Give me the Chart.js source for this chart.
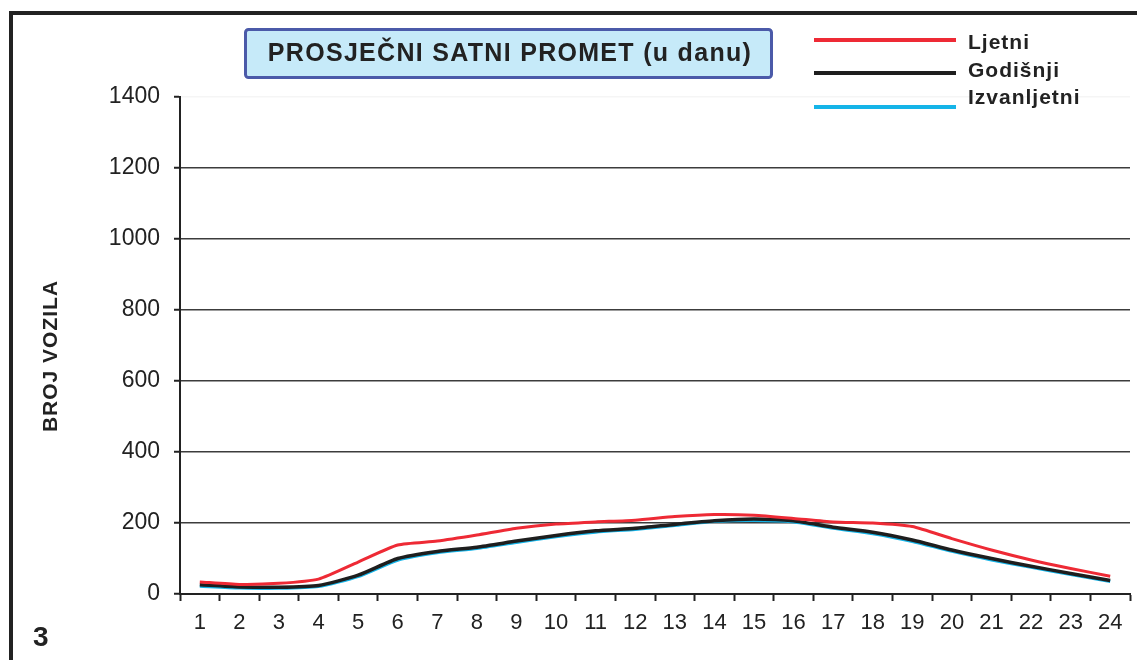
<!DOCTYPE html>
<html>
<head>
<meta charset="utf-8">
<script src="https://cdn.jsdelivr.net/npm/chart.js@4.4.1/dist/chart.umd.min.js"></script>
<style>
  html, body { margin: 0; padding: 0; background: #fff; }
  #wrap { width: 1137px; height: 660px; position: relative; }
</style>
</head>
<body>
<div id="wrap"><canvas id="chart"></canvas></div>
<script>
// data
const hours = ['1','2','3','4','5','6','7','8','9','10','11','12','13','14','15','16','17','18','19','20','21','22','23','24'];
const ljetni      = [34, 27, 30, 42, 90, 138, 149, 166, 185, 197, 203, 208, 218, 224, 222, 213, 203, 200, 190, 156, 124, 96, 72, 50];
const godisnji    = [26, 20, 19, 24, 53, 100, 120, 132, 149, 165, 178, 185, 196, 206, 211, 206, 188, 174, 152, 124, 100, 78, 58, 38];
const izvanljetni = [22, 17, 16, 21, 49, 95, 116, 128, 145, 161, 174, 182, 193, 204, 207, 203, 185, 170, 148, 120, 96, 75, 55, 35];
const yMax = 1400;
const yStep = 200;

const chartTitle = 'PROSJEČNI SATNI PROMET (u danu)';
const yTitle = 'BROJ VOZILA';
const panelNumber = '3';

const FONT = "'Liberation Sans', Arial, sans-serif";
const INK = '#222';

// frame, title box, legend, axis title, panel number
const decorations = {
    id: 'decorations',
    beforeDraw(chart) {
        const ctx = chart.ctx;
        ctx.save();
        ctx.fillStyle = '#fff';
        ctx.fillRect(0, 0, chart.width, chart.height);
        ctx.strokeStyle = INK;
        ctx.lineWidth = 4;
        ctx.beginPath();
        ctx.moveTo(11, chart.height);
        ctx.lineTo(11, 13);
        ctx.lineTo(chart.width, 13);
        ctx.stroke();
        ctx.restore();
    },
    afterDraw(chart) {
        const ctx = chart.ctx;
        ctx.save();

        // title box
        ctx.beginPath();
        ctx.roundRect(245.5, 29.5, 526, 48, 3);
        ctx.fillStyle = '#c6eaf9';
        ctx.fill();
        ctx.lineWidth = 3;
        ctx.strokeStyle = '#4b5aa9';
        ctx.stroke();
        ctx.fillStyle = INK;
        ctx.font = 'bold 25px ' + FONT;
        ctx.textAlign = 'center';
        ctx.textBaseline = 'middle';
        ctx.letterSpacing = '1.3px';
        ctx.fillText(chartTitle, 510, 54);

        // legend
        const rows = [{ line: 40, text: 43 }, { line: 73, text: 71 }, { line: 107, text: 98 }];
        ctx.textAlign = 'left';
        ctx.letterSpacing = '1px';
        ctx.font = 'bold 21px ' + FONT;
        chart.data.datasets.forEach((ds, i) => {
            const r = rows[i];
            ctx.strokeStyle = ds.borderColor;
            ctx.lineWidth = 4;
            ctx.beginPath();
            ctx.moveTo(814, r.line);
            ctx.lineTo(956, r.line);
            ctx.stroke();
            ctx.fillStyle = INK;
            ctx.fillText(ds.label, 968, r.text);
        });

        // y axis title
        ctx.save();
        ctx.translate(51, 356);
        ctx.rotate(-Math.PI / 2);
        ctx.textAlign = 'center';
        ctx.font = 'bold 21px ' + FONT;
        ctx.fillText(yTitle, 0, 0);
        ctx.restore();

        // panel number
        ctx.letterSpacing = '0px';
        ctx.font = 'bold 28px ' + FONT;
        ctx.textAlign = 'left';
        ctx.fillText(panelNumber, 33, 638);

        ctx.restore();
    }
};

const canvas = document.getElementById('chart');
const graph = new Chart(canvas, {
    type: 'line',
    data: {
        labels: hours,
        datasets: [
            { label: 'Ljetni', data: ljetni, borderColor: '#ee2a35', borderWidth: 3 },
            { label: 'Godišnji', data: godisnji, borderColor: '#1e1e1e', borderWidth: 3.5 },
            { label: 'Izvanljetni', data: izvanljetni, borderColor: '#15b4e8', borderWidth: 3 }
        ]
    },
    options: {
        responsive: true,
        maintainAspectRatio: false,
        animation: false,
        elements: {
            point: { radius: 0 },
            line: { tension: 0.2, fill: false }
        },
        layout: { padding: { top: 97, right: 7, bottom: 0, left: 0 } },
        plugins: {
            legend: { display: false },
            title: { display: false },
            tooltip: { enabled: false }
        },
        scales: {
            x: {
                type: 'category',
                offset: true,
                afterFit: (scale) => { scale.height = 66; },
                border: { display: true, color: INK, width: 2 },
                grid: {
                    offset: true,
                    drawOnChartArea: false,
                    tickLength: 7,
                    tickColor: INK,
                    tickWidth: 2
                },
                ticks: {
                    color: INK,
                    padding: 9,
                    maxRotation: 0,
                    autoSkip: false,
                    font: { family: FONT, size: 22 }
                }
            },
            y: {
                min: 0,
                max: yMax,
                afterFit: (scale) => { scale.width = 180; },
                border: { display: true, color: INK, width: 2 },
                grid: {
                    color: (c) => (c.tick && c.tick.value === yMax) ? 'rgba(0,0,0,0.04)' : '#3c3c3c',
                    lineWidth: 1.5,
                    tickLength: 6,
                    tickColor: INK,
                    tickWidth: 2
                },
                ticks: {
                    stepSize: yStep,
                    color: INK,
                    padding: 14,
                    font: { family: FONT, size: 23 },
                    callback: (v) => String(v)
                }
            }
        }
    },
    plugins: [decorations]
});
</script>
</body>
</html>
